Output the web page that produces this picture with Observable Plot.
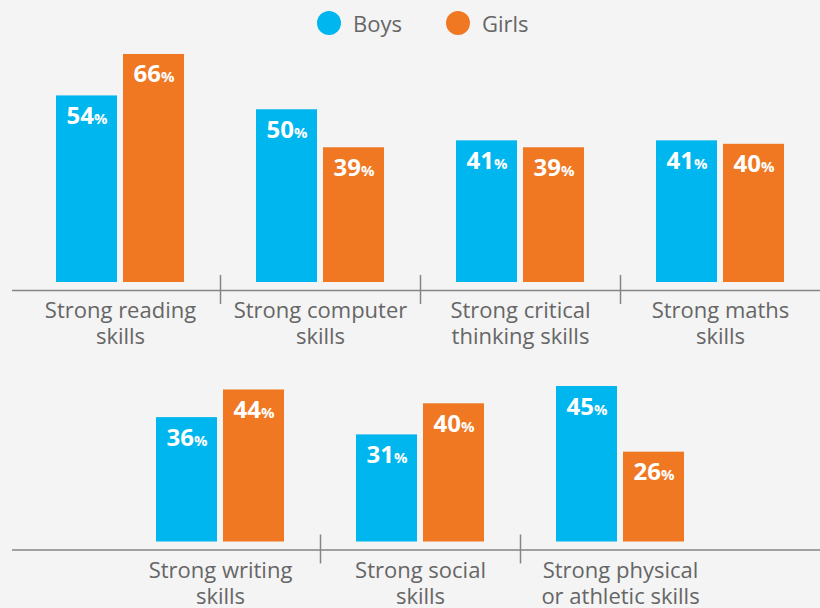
<!DOCTYPE html>
<html>
<head>
<meta charset="utf-8">
<script src="https://cdn.jsdelivr.net/npm/d3@7"></script>
<script src="https://cdn.jsdelivr.net/npm/@observablehq/plot@0.6"></script>
<style>
  html, body { margin: 0; padding: 0; background: #f4f4f4; }
  body { width: 820px; height: 608px; overflow: hidden; font-family: "Open Sans", sans-serif; }
  #legend { height: 45px; display: flex; align-items: center; padding-left: 317px; box-sizing: border-box; }
  .item { display: flex; align-items: center; margin-right: 44px; color: #666; font-size: 22px; }
  .sw { width: 24px; height: 24px; border-radius: 50%; margin-right: 12px; }
  svg { display: block; }
</style>
</head>
<body>
<div id="legend"></div>
<div id="chart"></div>
<script>
// ---- data ----
const series = ["Boys", "Girls"];
const seriesColors = ["#00b6ee", "#f07823"];

const topSkills = ["Strong reading\nskills", "Strong computer\nskills", "Strong critical\nthinking skills", "Strong maths\nskills"];
const topBoys = [54, 50, 41, 41];
const topGirls = [66, 39, 39, 40];

const bottomSkills = ["Strong writing\nskills", "Strong social\nskills", "Strong physical\nor athletic skills"];
const bottomBoys = [36, 31, 45];
const bottomGirls = [44, 40, 26];

// ---- legend ----
const legend = document.getElementById("legend");
series.forEach((s, i) => {
  const it = document.createElement("div");
  it.className = "item";
  it.innerHTML = `<span class="sw" style="background:${seriesColors[i]}"></span><span>${s}</span>`;
  legend.appendChild(it);
});

const pxPerPct = 3.455;
const axisColor = "#858585";
const axisStart = 12;

function row(skills, boys, girls, {height, marginLeft, marginRight, marginBottom}) {
  const data = [];
  skills.forEach((sk, i) => {
    data.push({skill: sk, sex: "Boys", value: boys[i]});
    data.push({skill: sk, sex: "Girls", value: girls[i]});
  });
  const lineOpts = {fx: d => d, y: () => 0, dy: 8, stroke: axisColor, strokeWidth: 1.5};
  const chart = Plot.plot({
    width: 820,
    height,
    marginTop: 0,
    marginLeft,
    marginRight,
    marginBottom,
    style: {background: "transparent", fontFamily: "'Open Sans', sans-serif", overflow: "visible"},
    fx: {domain: skills, padding: 0, axis: null},
    x: {domain: series, paddingInner: 6 / 67, paddingOuter: 0.537, axis: null},
    y: {domain: [0, (height - marginBottom) / pxPerPct], axis: null},
    color: {domain: series, range: seriesColors},
    marks: [
      Plot.barY(data, {fx: "skill", x: "sex", y: "value", fill: "sex"}),
      // baseline axis line, extended to the left and right page edges
      Plot.ruleY(skills.slice(0, 1), {...lineOpts, insetLeft: -(marginLeft - axisStart)}),
      Plot.ruleY(skills.slice(1, -1), lineOpts),
      Plot.ruleY(skills.slice(-1), {...lineOpts, insetRight: -marginRight}),
      // separators between groups
      Plot.ruleX(skills.slice(1), {fx: d => d, x: null, y1: () => 0, y2: () => 0, insetTop: -7, insetBottom: -22, dx: -100, stroke: axisColor, strokeWidth: 1.5}),
      // category labels
      Plot.text(skills, {fx: d => d, text: d => d, frameAnchor: "bottom", lineAnchor: "top", dy: 17.5, fontSize: 22, lineHeight: 1.18, fill: "#666"}),
      // value labels
      Plot.text(data, {fx: "skill", x: "sex", y: "value", text: d => d.value + "%", fill: "white", fontWeight: "bold", fontSize: 24, lineAnchor: "bottom", dy: 28})
    ]
  });
  chart.querySelectorAll('g[fill="white"] text').forEach(el => {
    const t = el.textContent;
    if (t.endsWith("%")) {
      el.textContent = t.slice(0, -1);
      const ts = document.createElementNS("http://www.w3.org/2000/svg", "tspan");
      ts.setAttribute("font-size", "15");
      ts.textContent = "%";
      el.appendChild(ts);
    }
  });
  return chart;
}

const container = document.getElementById("chart");
container.appendChild(row(topSkills, topBoys, topGirls, {height: 310, marginLeft: 20, marginRight: 0, marginBottom: 73}));
container.appendChild(row(bottomSkills, bottomBoys, bottomGirls, {height: 253, marginLeft: 120, marginRight: 100, marginBottom: 66.5}));
</script>
</body>
</html>
